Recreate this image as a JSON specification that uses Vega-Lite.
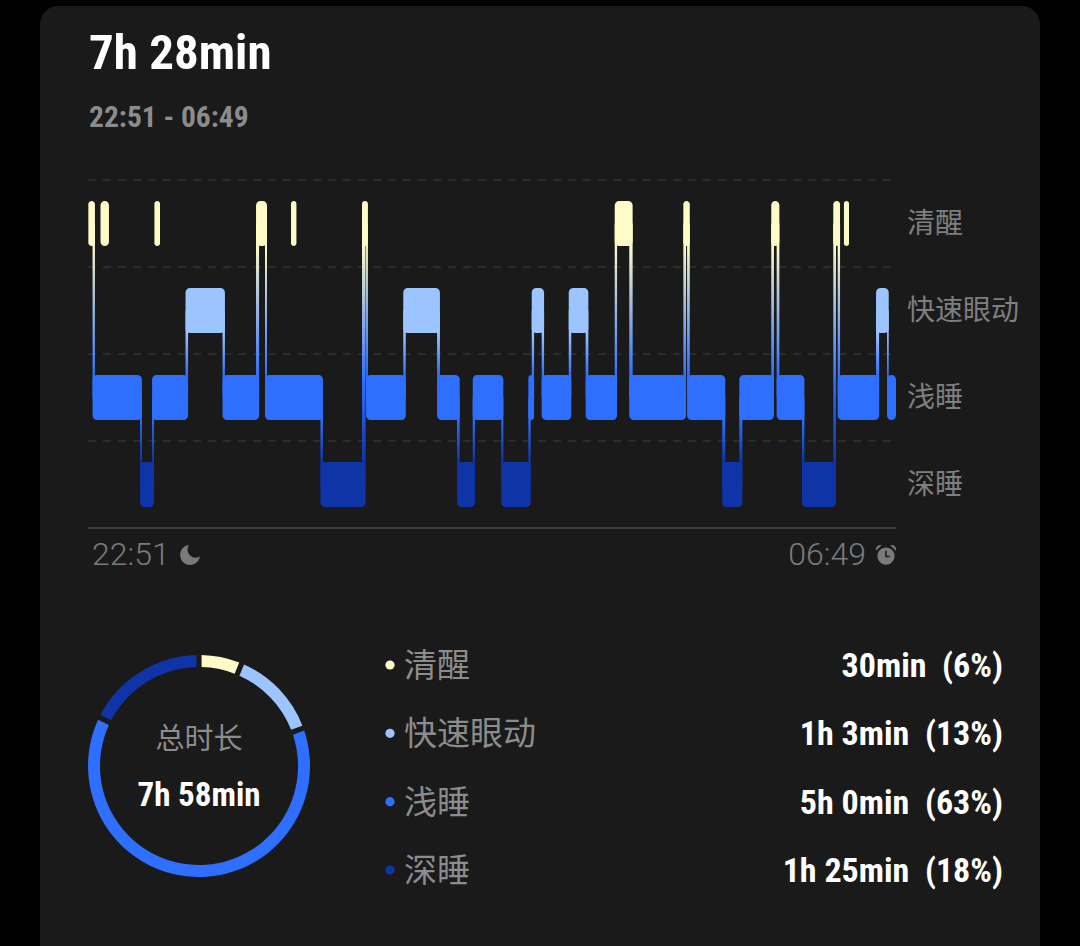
{
  "$schema": "https://vega.github.io/schema/vega-lite/v6.json",
  "width": 1080,
  "height": 946,
  "padding": 0,
  "autosize": {"type": "fit", "contains": "padding"},
  "background": "#000000",
  "config": {"view": {"stroke": null}},
  "datasets": {
    "stages": [
      {"stage": "清醒"},
      {"stage": "快速眼动"},
      {"stage": "浅睡"},
      {"stage": "深睡"}
    ],
    "segments": [
      {"stage": "清醒", "start": 0.2, "end": 4.1},
      {"stage": "清醒", "start": 7.4, "end": 12.4},
      {"stage": "清醒", "start": 39.3, "end": 42.6},
      {"stage": "清醒", "start": 99.4, "end": 105.9},
      {"stage": "清醒", "start": 120.1, "end": 123.3},
      {"stage": "清醒", "start": 162.1, "end": 165.6},
      {"stage": "清醒", "start": 311.6, "end": 322.2},
      {"stage": "清醒", "start": 352.2, "end": 356.0},
      {"stage": "清醒", "start": 404.2, "end": 409.0},
      {"stage": "清醒", "start": 440.9, "end": 444.9},
      {"stage": "清醒", "start": 447.2, "end": 450.2},
      {"stage": "浅睡", "start": 2.7, "end": 31.9},
      {"stage": "浅睡", "start": 37.9, "end": 59.2},
      {"stage": "浅睡", "start": 79.6, "end": 101.2},
      {"stage": "浅睡", "start": 104.7, "end": 139.0},
      {"stage": "浅睡", "start": 164.5, "end": 188.0},
      {"stage": "浅睡", "start": 206.5, "end": 219.9},
      {"stage": "浅睡", "start": 227.6, "end": 245.7},
      {"stage": "浅睡", "start": 260.5, "end": 263.9},
      {"stage": "浅睡", "start": 268.4, "end": 285.9},
      {"stage": "浅睡", "start": 294.4, "end": 313.0},
      {"stage": "浅睡", "start": 320.2, "end": 353.8},
      {"stage": "浅睡", "start": 354.4, "end": 377.0},
      {"stage": "浅睡", "start": 385.3, "end": 405.8},
      {"stage": "浅睡", "start": 407.4, "end": 423.8},
      {"stage": "浅睡", "start": 443.5, "end": 468.0},
      {"stage": "浅睡", "start": 472.7, "end": 478.0},
      {"stage": "快速眼动", "start": 57.7, "end": 81.0},
      {"stage": "快速眼动", "start": 186.5, "end": 208.2},
      {"stage": "快速眼动", "start": 262.5, "end": 269.8},
      {"stage": "快速眼动", "start": 284.4, "end": 296.0},
      {"stage": "快速眼动", "start": 466.2, "end": 473.7},
      {"stage": "深睡", "start": 30.8, "end": 39.0},
      {"stage": "深睡", "start": 137.5, "end": 164.2},
      {"stage": "深睡", "start": 218.3, "end": 228.9},
      {"stage": "深睡", "start": 244.5, "end": 261.9},
      {"stage": "深睡", "start": 375.2, "end": 387.1},
      {"stage": "深睡", "start": 422.4, "end": 442.5}
    ],
    "links": [
      {"upper": "清醒", "lower": "浅睡", "start": 2.7, "end": 4.1},
      {"upper": "浅睡", "lower": "深睡", "start": 30.8, "end": 31.9},
      {"upper": "浅睡", "lower": "深睡", "start": 37.9, "end": 39.0},
      {"upper": "快速眼动", "lower": "浅睡", "start": 57.7, "end": 59.2},
      {"upper": "快速眼动", "lower": "浅睡", "start": 79.6, "end": 81.0},
      {"upper": "清醒", "lower": "浅睡", "start": 99.4, "end": 101.2},
      {"upper": "清醒", "lower": "浅睡", "start": 104.7, "end": 105.9},
      {"upper": "浅睡", "lower": "深睡", "start": 137.5, "end": 139.0},
      {"upper": "清醒", "lower": "深睡", "start": 162.1, "end": 164.2},
      {"upper": "清醒", "lower": "浅睡", "start": 164.5, "end": 165.6},
      {"upper": "快速眼动", "lower": "浅睡", "start": 186.5, "end": 188.0},
      {"upper": "快速眼动", "lower": "浅睡", "start": 206.5, "end": 208.2},
      {"upper": "浅睡", "lower": "深睡", "start": 218.3, "end": 219.9},
      {"upper": "浅睡", "lower": "深睡", "start": 227.6, "end": 228.9},
      {"upper": "浅睡", "lower": "深睡", "start": 244.5, "end": 245.7},
      {"upper": "浅睡", "lower": "深睡", "start": 260.5, "end": 261.9},
      {"upper": "快速眼动", "lower": "浅睡", "start": 262.5, "end": 263.9},
      {"upper": "快速眼动", "lower": "浅睡", "start": 268.4, "end": 269.8},
      {"upper": "快速眼动", "lower": "浅睡", "start": 284.4, "end": 285.9},
      {"upper": "快速眼动", "lower": "浅睡", "start": 294.4, "end": 296.0},
      {"upper": "清醒", "lower": "浅睡", "start": 311.6, "end": 313.0},
      {"upper": "清醒", "lower": "浅睡", "start": 320.2, "end": 322.2},
      {"upper": "清醒", "lower": "浅睡", "start": 352.2, "end": 353.8},
      {"upper": "清醒", "lower": "浅睡", "start": 354.4, "end": 356.0},
      {"upper": "浅睡", "lower": "深睡", "start": 375.2, "end": 377.0},
      {"upper": "浅睡", "lower": "深睡", "start": 385.3, "end": 387.1},
      {"upper": "清醒", "lower": "浅睡", "start": 404.2, "end": 405.8},
      {"upper": "清醒", "lower": "浅睡", "start": 407.4, "end": 409.0},
      {"upper": "浅睡", "lower": "深睡", "start": 422.4, "end": 423.8},
      {"upper": "清醒", "lower": "深睡", "start": 440.9, "end": 442.5},
      {"upper": "清醒", "lower": "浅睡", "start": 443.5, "end": 444.9},
      {"upper": "快速眼动", "lower": "浅睡", "start": 466.2, "end": 468.0},
      {"upper": "快速眼动", "lower": "浅睡", "start": 472.7, "end": 473.7}
    ],
    "summary": [
      {"stage": "清醒", "seq": 1, "minutes": 30, "label": "30min\u00a0\u00a0(6%)"},
      {"stage": "快速眼动", "seq": 2, "minutes": 63, "label": "1h 3min\u00a0\u00a0(13%)"},
      {"stage": "浅睡", "seq": 3, "minutes": 300, "label": "5h 0min\u00a0\u00a0(63%)"},
      {"stage": "深睡", "seq": 4, "minutes": 85, "label": "1h 25min\u00a0\u00a0(18%)"}
    ]
  },
  "resolve": {"scale": {"x": "independent", "y": "independent", "color": "independent", "size": "independent", "theta": "independent"}},
  "layer": [
    {
      "data": {"values": [{"part": "card"}]},
      "mark": {"type": "rect", "fill": "#1a1a1a", "cornerRadius": 18},
      "encoding": {
        "x": {"datum": 0, "type": "quantitative", "axis": null, "scale": {"domain": [0, 1], "range": [40, 1040]}},
        "x2": {"datum": 1},
        "y": {"datum": 0, "type": "quantitative", "axis": null, "scale": {"domain": [0, 1], "range": [6, 1000]}},
        "y2": {"datum": 1}
      }
    },
    {
      "data": {"values": [
        {"line": "duration", "text": "7h 28min"},
        {"line": "span", "text": "22:51 - 06:49"}
      ]},
      "mark": {"type": "text", "align": "left", "baseline": "middle", "font": "Roboto Condensed, Open Sans Condensed, DejaVu Sans Condensed, sans-serif", "fontWeight": "bold"},
      "encoding": {
        "x": {"datum": 0, "type": "quantitative", "axis": null, "scale": {"domain": [0, 1], "range": [89, 1000]}},
        "y": {"field": "line", "type": "nominal", "axis": null, "scale": {"type": "point", "padding": 0, "domain": ["duration", "span"], "range": [54, 118]}},
        "text": {"field": "text"},
        "size": {"field": "line", "type": "ordinal", "legend": null, "scale": {"domain": ["duration", "span"], "range": [49, 29.5]}},
        "color": {"field": "line", "type": "nominal", "legend": null, "scale": {"domain": ["duration", "span"], "range": ["#ffffff", "#8c8c8c"]}}
      }
    },
    {
      "encoding": {
        "y": {"field": "stage", "type": "nominal", "axis": null, "scale": {"type": "band", "domain": ["清醒", "快速眼动", "浅睡", "深睡"], "range": [180, 528], "paddingInner": 0.4828, "paddingOuter": 0.2414}}
      },
      "layer": [
        {
          "data": {"name": "stages"},
          "mark": {"type": "rule", "stroke": "#3d3d3d", "strokeWidth": 1, "strokeDash": [8, 7], "yOffset": -43.5},
          "encoding": {
            "x": {"datum": 0, "type": "quantitative", "axis": null, "scale": {"domain": [0, 478], "range": [88, 896], "nice": false, "zero": false}},
            "x2": {"datum": 478}
          }
        },
        {
          "data": {"name": "stages"},
          "transform": [{"filter": "datum.stage === '深睡'"}],
          "mark": {"type": "rule", "stroke": "#3d3d3d", "strokeWidth": 2, "yOffset": 43.5},
          "encoding": {"x": {"datum": 0, "type": "quantitative"}, "x2": {"datum": 478}}
        },
        {
          "data": {"name": "links"},
          "transform": [{"filter": "datum.upper === '清醒' && datum.lower === '浅睡'"}],
          "mark": {"type": "rect", "fill": {"gradient": "linear", "x1": 0, "y1": 0, "x2": 0, "y2": 1, "stops": [{"offset": 0.129, "color": "#fffbc8"}, {"offset": 0.871, "color": "#2e6fff"}]}},
          "encoding": {
            "x": {"field": "start", "type": "quantitative"},
            "x2": {"field": "end"},
            "y": {"field": "upper", "type": "nominal"},
            "y2": {"field": "lower"}
          }
        },
        {
          "data": {"name": "links"},
          "transform": [{"filter": "datum.upper === '清醒' && datum.lower === '深睡'"}],
          "mark": {"type": "rect", "fill": {"gradient": "linear", "x1": 0, "y1": 0, "x2": 0, "y2": 1, "stops": [{"offset": 0.086, "color": "#fffbc8"}, {"offset": 0.6, "color": "#2e6fff"}, {"offset": 0.914, "color": "#0f34a8"}]}},
          "encoding": {
            "x": {"field": "start", "type": "quantitative"},
            "x2": {"field": "end"},
            "y": {"field": "upper", "type": "nominal"},
            "y2": {"field": "lower"}
          }
        },
        {
          "data": {"name": "links"},
          "transform": [{"filter": "datum.upper === '快速眼动'"}],
          "mark": {"type": "rect", "fill": {"gradient": "linear", "x1": 0, "y1": 0, "x2": 0, "y2": 1, "stops": [{"offset": 0.259, "color": "#9cc4ff"}, {"offset": 0.741, "color": "#2e6fff"}]}},
          "encoding": {
            "x": {"field": "start", "type": "quantitative"},
            "x2": {"field": "end"},
            "y": {"field": "upper", "type": "nominal"},
            "y2": {"field": "lower"}
          }
        },
        {
          "data": {"name": "links"},
          "transform": [{"filter": "datum.upper === '浅睡'"}],
          "mark": {"type": "rect", "fill": {"gradient": "linear", "x1": 0, "y1": 0, "x2": 0, "y2": 1, "stops": [{"offset": 0.259, "color": "#2e6fff"}, {"offset": 0.741, "color": "#0f34a8"}]}},
          "encoding": {
            "x": {"field": "start", "type": "quantitative"},
            "x2": {"field": "end"},
            "y": {"field": "upper", "type": "nominal"},
            "y2": {"field": "lower"}
          }
        },
        {
          "data": {"name": "segments"},
          "mark": {"type": "rect", "cornerRadius": 4.5},
          "encoding": {
            "x": {"field": "start", "type": "quantitative"},
            "x2": {"field": "end"},
            "color": {"field": "stage", "type": "nominal", "legend": null, "scale": {"domain": ["清醒", "快速眼动", "浅睡", "深睡"], "range": ["#fffbc8", "#9cc4ff", "#2e6fff", "#0f34a8"]}}
          }
        },
        {
          "data": {"name": "stages"},
          "mark": {"type": "text", "align": "left", "baseline": "middle", "font": "Noto Sans CJK SC", "fontSize": 28, "fill": "#7f7f7f", "xOffset": 11, "yOffset": 1},
          "encoding": {
            "x": {"datum": 478, "type": "quantitative"},
            "text": {"field": "stage"}
          }
        },
        {
          "data": {"values": [{"stage": "深睡", "text": "22:51"}]},
          "mark": {"type": "text", "align": "left", "baseline": "middle", "font": "Roboto", "fontWeight": 300, "fontSize": 32, "fill": "#7a7a7a", "xOffset": 4, "yOffset": 70.5},
          "encoding": {"x": {"datum": 0, "type": "quantitative"}, "text": {"field": "text"}}
        },
        {
          "data": {"values": [{"stage": "深睡", "text": "06:49"}]},
          "mark": {"type": "text", "align": "right", "baseline": "middle", "font": "Roboto", "fontWeight": 300, "fontSize": 32, "fill": "#7a7a7a", "xOffset": -30, "yOffset": 70.5},
          "encoding": {"x": {"datum": 478, "type": "quantitative"}, "text": {"field": "text"}}
        },
        {
          "data": {"values": [{"stage": "深睡", "icon": "moon"}]},
          "mark": {"type": "point", "filled": true, "opacity": 1, "fill": "#7a7a7a", "stroke": null, "size": 440, "xOffset": 102, "yOffset": 70.5, "shape": "M-0.1,-0.95 A0.95,0.95 0 1 0 0.95,0.15 A0.78,0.78 0 0 1 -0.1,-0.95 Z"},
          "encoding": {"x": {"datum": 0, "type": "quantitative"}}
        },
        {
          "data": {"values": [{"stage": "深睡", "icon": "alarm"}]},
          "mark": {"type": "point", "filled": true, "opacity": 1, "fill": "#7a7a7a", "stroke": null, "size": 440, "xOffset": -10, "yOffset": 70.5, "shape": "M0,-0.72 A0.82,0.82 0 1 1 0,0.92 A0.82,0.82 0 1 1 0,-0.72 Z M-0.95,-0.4 A0.45,0.45 0 0 1 -0.4,-0.95 Z M0.95,-0.4 A0.45,0.45 0 0 0 0.4,-0.95 Z"},
          "encoding": {"x": {"datum": 478, "type": "quantitative"}}
        },
        {
          "data": {"values": [{"stage": "深睡", "icon": "hands"}]},
          "mark": {"type": "point", "filled": false, "opacity": 1, "stroke": "#1a1a1a", "strokeWidth": 1.5, "size": 440, "xOffset": -10, "yOffset": 70.5, "shape": "M0,-0.4 L0,0.15 L0.35,0.15"},
          "encoding": {"x": {"datum": 478, "type": "quantitative"}}
        }
      ]
    },
    {
      "data": {"name": "summary"},
      "mark": {"type": "arc", "radius": 111, "innerRadius": 99, "padAngle": 0.035},
      "encoding": {
        "x": {"datum": 0, "type": "quantitative", "axis": null, "scale": {"domain": [0, 1], "range": [199, 1000]}},
        "y": {"datum": 0, "type": "quantitative", "axis": null, "scale": {"domain": [0, 1], "range": [766, 1000]}},
        "theta": {"field": "minutes", "type": "quantitative", "stack": true},
        "order": {"field": "seq"},
        "color": {"field": "stage", "type": "nominal", "legend": null, "scale": {"domain": ["清醒", "快速眼动", "浅睡", "深睡"], "range": ["#fffbc8", "#9cc4ff", "#2e6fff", "#0f34a8"]}}
      }
    },
    {
      "data": {"values": [{"line": "caption", "text": "总时长"}]},
      "mark": {"type": "text", "align": "center", "baseline": "middle", "font": "Noto Sans CJK SC", "fontSize": 29, "fill": "#8c8c8c"},
      "encoding": {
        "x": {"datum": 0, "type": "quantitative", "axis": null, "scale": {"domain": [0, 1], "range": [199, 1000]}},
        "y": {"datum": 0, "type": "quantitative", "axis": null, "scale": {"domain": [0, 1], "range": [740, 1000]}},
        "text": {"field": "text"}
      }
    },
    {
      "data": {"values": [{"line": "total", "text": "7h 58min"}]},
      "mark": {"type": "text", "align": "center", "baseline": "middle", "font": "Roboto Condensed, Open Sans Condensed, DejaVu Sans Condensed, sans-serif", "fontWeight": "bold", "fontSize": 33, "fill": "#ffffff"},
      "encoding": {
        "x": {"datum": 0, "type": "quantitative", "axis": null, "scale": {"domain": [0, 1], "range": [199, 1000]}},
        "y": {"datum": 0, "type": "quantitative", "axis": null, "scale": {"domain": [0, 1], "range": [796, 1000]}},
        "text": {"field": "text"}
      }
    },
    {
      "data": {"name": "summary"},
      "encoding": {
        "y": {"field": "stage", "type": "nominal", "axis": null, "scale": {"type": "point", "padding": 0, "domain": ["清醒", "快速眼动", "浅睡", "深睡"], "range": [667, 872]}}
      },
      "layer": [
        {
          "mark": {"type": "point", "filled": true, "opacity": 1, "size": 85, "xOffset": -14, "yOffset": -2},
          "encoding": {
            "x": {"datum": 0, "type": "quantitative", "axis": null, "scale": {"domain": [0, 1], "range": [404, 1003]}},
            "color": {"field": "stage", "type": "nominal", "legend": null, "scale": {"domain": ["清醒", "快速眼动", "浅睡", "深睡"], "range": ["#fffbc8", "#9cc4ff", "#2e6fff", "#0f34a8"]}}
          }
        },
        {
          "mark": {"type": "text", "align": "left", "baseline": "middle", "font": "Noto Sans CJK SC", "fontSize": 33, "fill": "#8c8c8c"},
          "encoding": {"x": {"datum": 0, "type": "quantitative"}, "text": {"field": "stage"}}
        },
        {
          "mark": {"type": "text", "align": "right", "baseline": "middle", "font": "Roboto Condensed, Open Sans Condensed, DejaVu Sans Condensed, sans-serif", "fontWeight": "bold", "fontSize": 34, "fill": "#ffffff"},
          "encoding": {"x": {"datum": 1, "type": "quantitative"}, "text": {"field": "label"}}
        }
      ]
    }
  ]
}
